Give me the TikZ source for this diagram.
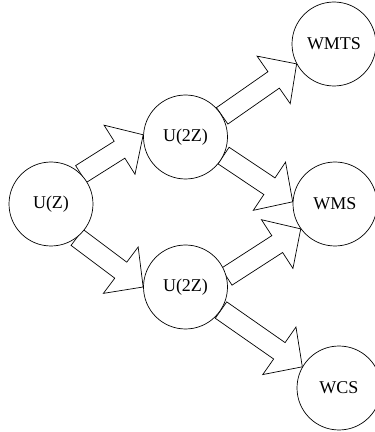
\documentclass[tikz,border=0pt]{standalone}
\usepackage{fontspec}
\setmainfont{Liberation Serif}
\usetikzlibrary{calc,backgrounds}

\tikzset{
  circ/.style={circle, draw, fill=white, minimum size=84pt, inner sep=0pt,
               line width=0.7pt, font=\fontsize{18}{20}\selectfont},
  blk/.style={draw, fill=white, line width=0.7pt, line join=miter}
}

% hollow block arrow from #1 to #2
\newcommand{\blockarr}[2]{%
  \coordinate (s) at (#1);
  \coordinate (t) at (#2);
  \coordinate (h) at ($(t)!28pt!(s)$);
  \draw[blk] ($(s)!10pt!90:(t)$) -- ($(h)!10pt!-90:(s)$) -- ($(h)!29pt!-90:(s)$)
     -- (t) -- ($(h)!29pt!90:(s)$) -- ($(h)!10pt!90:(s)$) -- ($(s)!10pt!-90:(t)$) -- cycle;
}

\begin{document}
\begin{tikzpicture}[x=1pt,y=1pt]
    \useasboundingbox (0,0) rectangle (375,432);

    \node[circ] (uz)   at (51,228)    {U(Z)};
    \node[circ] (uza)  at (185.5,295) {U(2Z)};
    \node[circ] (uzb)  at (185.5,145) {U(2Z)};
    \node[circ] (wmts) at (334,388)   {WMTS};
    \node[circ] (wms)  at (335,228)   {WMS};
    \node[circ] (wcs)  at (339,44)    {WCS};

    \begin{pgfonlayer}{background}
        \blockarr{uz.45}{uza.177}
        \blockarr{uz.-52}{uzb.180}
        \blockarr{uza.30}{wmts.208}
        \blockarr{uza.-26}{wms.177}
        \blockarr{uzb.14}{wms.216}
        \blockarr{uzb.-33}{wcs.150}
    \end{pgfonlayer}

\end{tikzpicture}
\end{document}
